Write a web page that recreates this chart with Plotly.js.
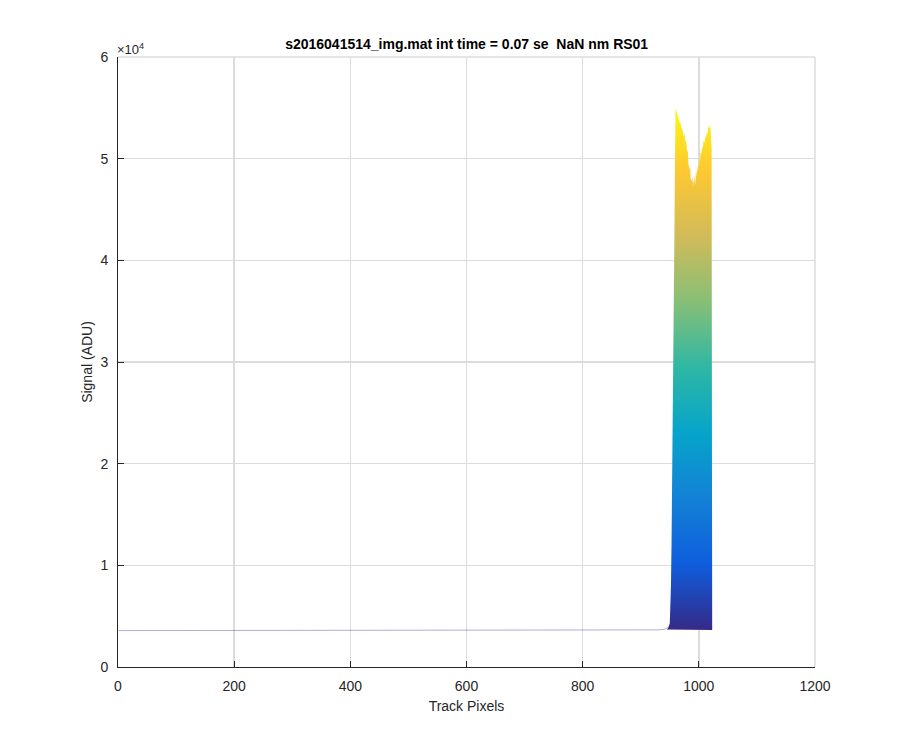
<!DOCTYPE html>
<html>
<head>
<meta charset="utf-8">
<script src="https://cdn.plot.ly/plotly-3.0.1.min.js"></script>
<style>html,body{margin:0;padding:0;background:#fff;}#chart{width:900px;height:750px;}</style>
</head>
<body>
<div id="chart"></div>
<script>
// Flat baseline of the track (pixels 1..~948)
const baseX = [1, 100, 200, 300, 400, 500, 600, 700, 800, 850, 900, 930, 940, 945, 948, 950];
const baseY = [3580, 3580, 3590, 3590, 3600, 3600, 3610, 3610, 3620, 3620, 3630, 3650, 3700, 3780, 3900, 4200];

// Upper envelope of the bright peak region
const peakX = [945, 948, 950, 951, 952, 953, 954, 955, 956, 957, 958, 959, 960, 961, 962, 963, 964, 965, 966, 967, 968, 970, 972, 974, 975, 977, 978, 980, 981, 982, 984, 985, 986, 988, 989, 990, 991, 992, 993, 994, 995, 996, 997, 998, 999, 1000, 1001, 1002, 1003, 1004, 1006, 1007, 1008, 1010, 1011, 1012, 1014, 1015, 1016, 1018, 1019, 1020, 1021, 1022, 1023];
const peakY = [3700, 3900, 4300, 5500, 8000, 12000, 17000, 23000, 29000, 36000, 43000, 50000, 55300, 54500, 54900, 54100, 54400, 53800, 54000, 53500, 53600, 53100, 52800, 52200, 52500, 51600, 51800, 50600, 50900, 49500, 48900, 49300, 48000, 47800, 48300, 47200, 47900, 47600, 48400, 47300, 48800, 48200, 49200, 48700, 49500, 49100, 50200, 49700, 50800, 50400, 51300, 50900, 51800, 51600, 52300, 51900, 52700, 52400, 53000, 53300, 52900, 53200, 52400, 51000, 3640];

const xTicks = [0, 200, 400, 600, 800, 1000, 1200];
const yTicks = [0, 10000, 20000, 30000, 40000, 50000, 60000];
const yTickText = ['0', '1', '2', '3', '4', '5', '6'];

const parula = [
  [0, '#352a87'], [0.125, '#0f5cdd'], [0.25, '#1481d6'], [0.375, '#06a4ca'],
  [0.5, '#2eb7a4'], [0.625, '#87bf77'], [0.75, '#d1bb59'], [0.875, '#fec832'], [1, '#f9fb0e']
];

const FONT = 'Liberation Sans, Arial, Helvetica, sans-serif';
const AX = '#262626';

const traces = [
  {
    x: baseX, y: baseY, type: 'scatter', mode: 'lines',
    line: {color: 'rgba(62,45,150,0.4)', width: 1},
    hoverinfo: 'skip', showlegend: false
  },
  {
    x: peakX, y: peakY, type: 'scatter', mode: 'lines',
    fill: 'toself',
    fillgradient: {type: 'vertical', colorscale: parula, start: 3600, stop: 55300},
    line: {color: 'rgba(0,0,0,0)', width: 0},
    hoverinfo: 'skip', showlegend: false
  }
];

const layout = {
  width: 900, height: 750,
  paper_bgcolor: '#ffffff', plot_bgcolor: '#ffffff',
  margin: {l: 118, r: 85, t: 57, b: 83},
  font: {family: FONT, color: AX, size: 13},
  title: {
    text: '<b>s2016041514_img.mat int time = 0.07 se\u00a0 NaN nm RS01</b>',
    font: {family: FONT, size: 14, color: '#000'},
    x: 0.5185, xanchor: 'center', xref: 'container',
    y: 1 - 44 / 750, yanchor: 'middle', yref: 'container'
  },
  xaxis: {
    range: [0, 1200], tickvals: xTicks, ticktext: xTicks.map(String),
    showgrid: true, gridcolor: '#dcdcdc', gridwidth: 1.5,
    showline: true, linecolor: AX, linewidth: 1,
    ticks: 'inside', ticklen: 6, tickcolor: AX, tickwidth: 1,
    zeroline: false, ticklabelstandoff: 6,
    tickfont: {family: FONT, size: 14, color: AX},
    title: {text: 'Track Pixels', font: {family: FONT, size: 14, color: AX}, standoff: 8}
  },
  yaxis: {
    range: [0, 60000], tickvals: yTicks, ticktext: yTickText,
    showgrid: true, gridcolor: '#dcdcdc', gridwidth: 1.5,
    showline: true, linecolor: AX, linewidth: 1,
    ticks: 'inside', ticklen: 6, tickcolor: AX, tickwidth: 1,
    zeroline: false, ticklabelstandoff: 6,
    tickfont: {family: FONT, size: 14, color: AX},
    title: {text: 'Signal (ADU)', font: {family: FONT, size: 14, color: AX}, standoff: 4}
  },
  annotations: [{
    text: '×10<sup>4</sup>', xref: 'paper', yref: 'paper', x: 0, y: 1,
    xanchor: 'left', yanchor: 'bottom', showarrow: false, xshift: -3, yshift: -2,
    font: {family: FONT, size: 13, color: AX}
  }],
  shapes: [
    {type: 'line', xref: 'paper', yref: 'paper', x0: 0, x1: 1, y0: 1, y1: 1, line: {color: '#dcdcdc', width: 1.5}, layer: 'below'},
    {type: 'line', xref: 'paper', yref: 'paper', x0: 1, x1: 1, y0: 0, y1: 1, line: {color: '#dcdcdc', width: 1.5}, layer: 'below'}
  ]
};

Plotly.newPlot('chart', traces, layout, {displayModeBar: false, staticPlot: true});
</script>
</body>
</html>
